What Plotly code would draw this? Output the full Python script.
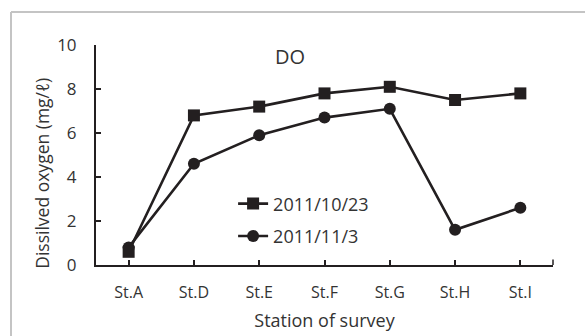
import plotly.graph_objects as go

# Survey stations and dissolved oxygen readings (mg/ℓ)
stations = ["St.A", "St.D", "St.E", "St.F", "St.G", "St.H", "St.I"]
do_oct23 = [0.6, 6.8, 7.2, 7.8, 8.1, 7.5, 7.8]
do_nov3 = [0.8, 4.6, 5.9, 6.7, 7.1, 1.6, 2.6]
y_ticks = [0, 2, 4, 6, 8, 10]

ink = "#231f20"
text_col = "#333333"
font_family = "Open Sans"

fig = go.Figure()
fig.add_trace(go.Scatter(
    x=stations, y=do_nov3, name="2011/11/3", legendgroup="b", legendrank=2,
    mode="lines+markers",
    line=dict(color=ink, width=2.6),
    marker=dict(symbol="circle", size=12, color=ink),
))
fig.add_trace(go.Scatter(
    x=stations, y=do_oct23, name="2011/10/23", legendgroup="a", legendrank=1,
    mode="lines+markers",
    line=dict(color=ink, width=2.6),
    marker=dict(symbol="square", size=12, color=ink),
))

fig.update_layout(
    width=585, height=336,
    margin=dict(l=96, r=32, t=45, b=71),
    paper_bgcolor="white", plot_bgcolor="white",
    font=dict(family=font_family, size=16, color=text_col),
    showlegend=True,
    legend=dict(
        x=0.30, y=0.205, xanchor="left", yanchor="middle",
        traceorder="grouped", tracegroupgap=6,
        font=dict(size=18, color=text_col),
        bgcolor="rgba(0,0,0,0)", itemwidth=30,
    ),
    xaxis=dict(
        type="category", categoryorder="array", categoryarray=stations,
        range=[-0.5, 6.5], automargin=False,
        showline=True, linecolor=ink, linewidth=2,
        ticks="inside", ticklen=5, tickcolor=ink, tickwidth=1.5,
        showgrid=False, zeroline=False,
        tickfont=dict(size=16, color=text_col),
        ticklabelstandoff=12,
        title=dict(text="Station of survey", font=dict(size=18, color=text_col), standoff=12),
    ),
    yaxis=dict(
        range=[0, 10], tickvals=y_ticks, automargin=False,
        showline=True, linecolor=ink, linewidth=2,
        ticks="inside", ticklen=5, tickcolor=ink, tickwidth=1.5,
        showgrid=False, zeroline=False,
        tickfont=dict(size=17, color=text_col),
        ticklabelstandoff=14,
    ),
    annotations=[
        dict(text="DO", xref="paper", yref="paper", x=0.425, y=0.95,
             showarrow=False, font=dict(size=20, color=text_col),
             xanchor="center", yanchor="middle"),
        dict(text="Dissilved oxygen (mg/ℓ)", xref="paper", yref="paper",
             x=-0.118, y=0.415, textangle=-90, showarrow=False,
             font=dict(size=17.5, color=text_col),
             xanchor="center", yanchor="middle"),
    ],
    shapes=[
        # closing tick at the right end of the category axis
        dict(type="line", xref="x domain", yref="y domain",
             x0=1, x1=1, y0=0, y1=0.025, line=dict(color=ink, width=1.5)),
        # outer frame of the figure panel
        dict(type="line", xref="paper", yref="paper",
             x0=-0.186, x1=1.1, y0=1.15, y1=1.15, line=dict(color="#c4c4c4", width=2)),
        dict(type="line", xref="paper", yref="paper",
             x0=-0.186, x1=-0.186, y0=1.15, y1=-0.4, line=dict(color="#c4c4c4", width=2)),
    ],
)

fig.write_html("out.html")
